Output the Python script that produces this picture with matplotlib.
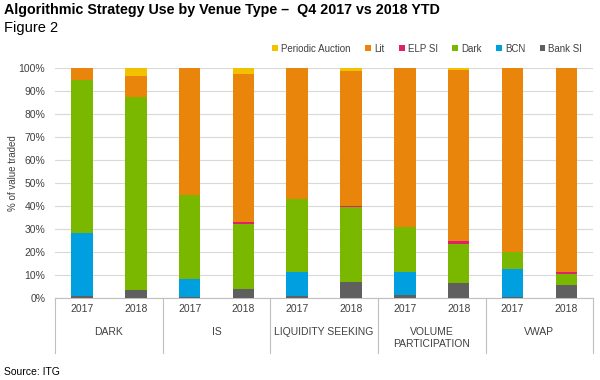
import numpy as np
import matplotlib.pyplot as plt
from matplotlib.transforms import blended_transform_factory

plt.rcParams['font.family'] = ['Liberation Sans', 'DejaVu Sans']

# Data: share of value traded (%) per bar, bars ordered group by group (2017, 2018)
groups = ["DARK", "IS", "LIQUIDITY SEEKING", "VOLUME\nPARTICIPATION", "VWAP"]
years = ["2017", "2018"]
bank_si = [1.0, 3.6, 0.3, 4.0, 0.9, 7.1, 1.3, 6.5, 0.6, 5.6]
bcn = [27.4, 0.0, 8.1, 0.0, 10.2, 0.0, 9.8, 0.0, 12.0, 0.0]
dark = [66.4, 84.0, 36.5, 28.3, 32.0, 32.3, 19.6, 17.1, 7.5, 4.8]
elp_si = [0.0, 0.0, 0.0, 0.7, 0.0, 0.6, 0.0, 1.1, 0.0, 0.7]
lit = [5.2, 9.1, 55.1, 64.4, 56.9, 58.6, 69.3, 74.4, 79.9, 88.9]
periodic = [0.0, 3.3, 0.0, 2.6, 0.0, 1.4, 0.0, 0.9, 0.0, 0.0]

series = [("Bank SI", bank_si, "#5f5f5f"),
          ("BCN", bcn, "#009fdf"),
          ("Dark", dark, "#7ab800"),
          ("ELP SI", elp_si, "#e0206a"),
          ("Lit", lit, "#e8850a"),
          ("Periodic Auction", periodic, "#f2c200")]

fig = plt.figure(figsize=(6, 3.8), dpi=100)
ax = fig.add_axes([0.0917, 0.216, 0.897, 0.605])

x = np.array([g + off for g in range(len(groups)) for off in (-0.25, 0.25)])
bottom = np.zeros(len(x))
handles = {}
for name, vals, col in series:
    vals = np.array(vals)
    b = ax.bar(x, vals, 0.2, bottom=bottom, color=col, label=name, zorder=3)
    handles[name] = b
    bottom += vals

ax.set_ylim(0, 100)
ax.set_xlim(-0.5, len(groups) - 0.5)
ax.set_yticks(np.arange(0, 101, 10))
ax.set_yticklabels([f"{v}%" for v in range(0, 101, 10)], fontsize=7.5, color="#404040")
ax.yaxis.grid(True, color="#d9d9d9", linewidth=0.8, zorder=0)
ax.tick_params(axis="y", length=0, pad=7)
ax.set_xticks([])
for s in ["top", "right", "left"]:
    ax.spines[s].set_visible(False)
ax.spines["bottom"].set_color("#bfbfbf")
fig.text(0.022, 0.545, "% of value traded", fontsize=7, color="#404040",
         rotation=90, ha="center", va="center")

# two-level category axis
trans = blended_transform_factory(ax.transData, ax.transAxes)
for xi, yr in zip(x, years * len(groups)):
    ax.text(xi, -0.05, yr, transform=trans, ha="center", va="center",
            fontsize=7.5, color="#404040")
for gi, g in enumerate(groups):
    ax.text(gi, -0.125, g, transform=trans, ha="center", va="top",
            fontsize=7.5, color="#404040", linespacing=1.25)
for b in np.arange(-0.5, len(groups), 1.0):
    ax.plot([b, b], [0, -0.24], transform=trans, color="#bfbfbf",
            linewidth=0.8, clip_on=False)

order = ["Periodic Auction", "Lit", "ELP SI", "Dark", "BCN", "Bank SI"]
fig.legend([handles[n] for n in order], order, loc="center right",
           bbox_to_anchor=(0.985, 0.872), ncol=6, frameon=False, fontsize=7,
           handlelength=0.6, handleheight=0.6, handletextpad=0.3,
           columnspacing=1.5, labelcolor="#404040")

fig.text(0.006, 0.973, "Algorithmic Strategy Use by Venue Type \u2013  Q4 2017 vs 2018 YTD",
         fontsize=10.3, fontweight="bold", va="center")
fig.text(0.006, 0.927, "Figure 2", fontsize=10.5, va="center")
fig.text(0.006, 0.02, "Source: ITG", fontsize=7.5, va="center")

fig.savefig("out.png", dpi=100)
